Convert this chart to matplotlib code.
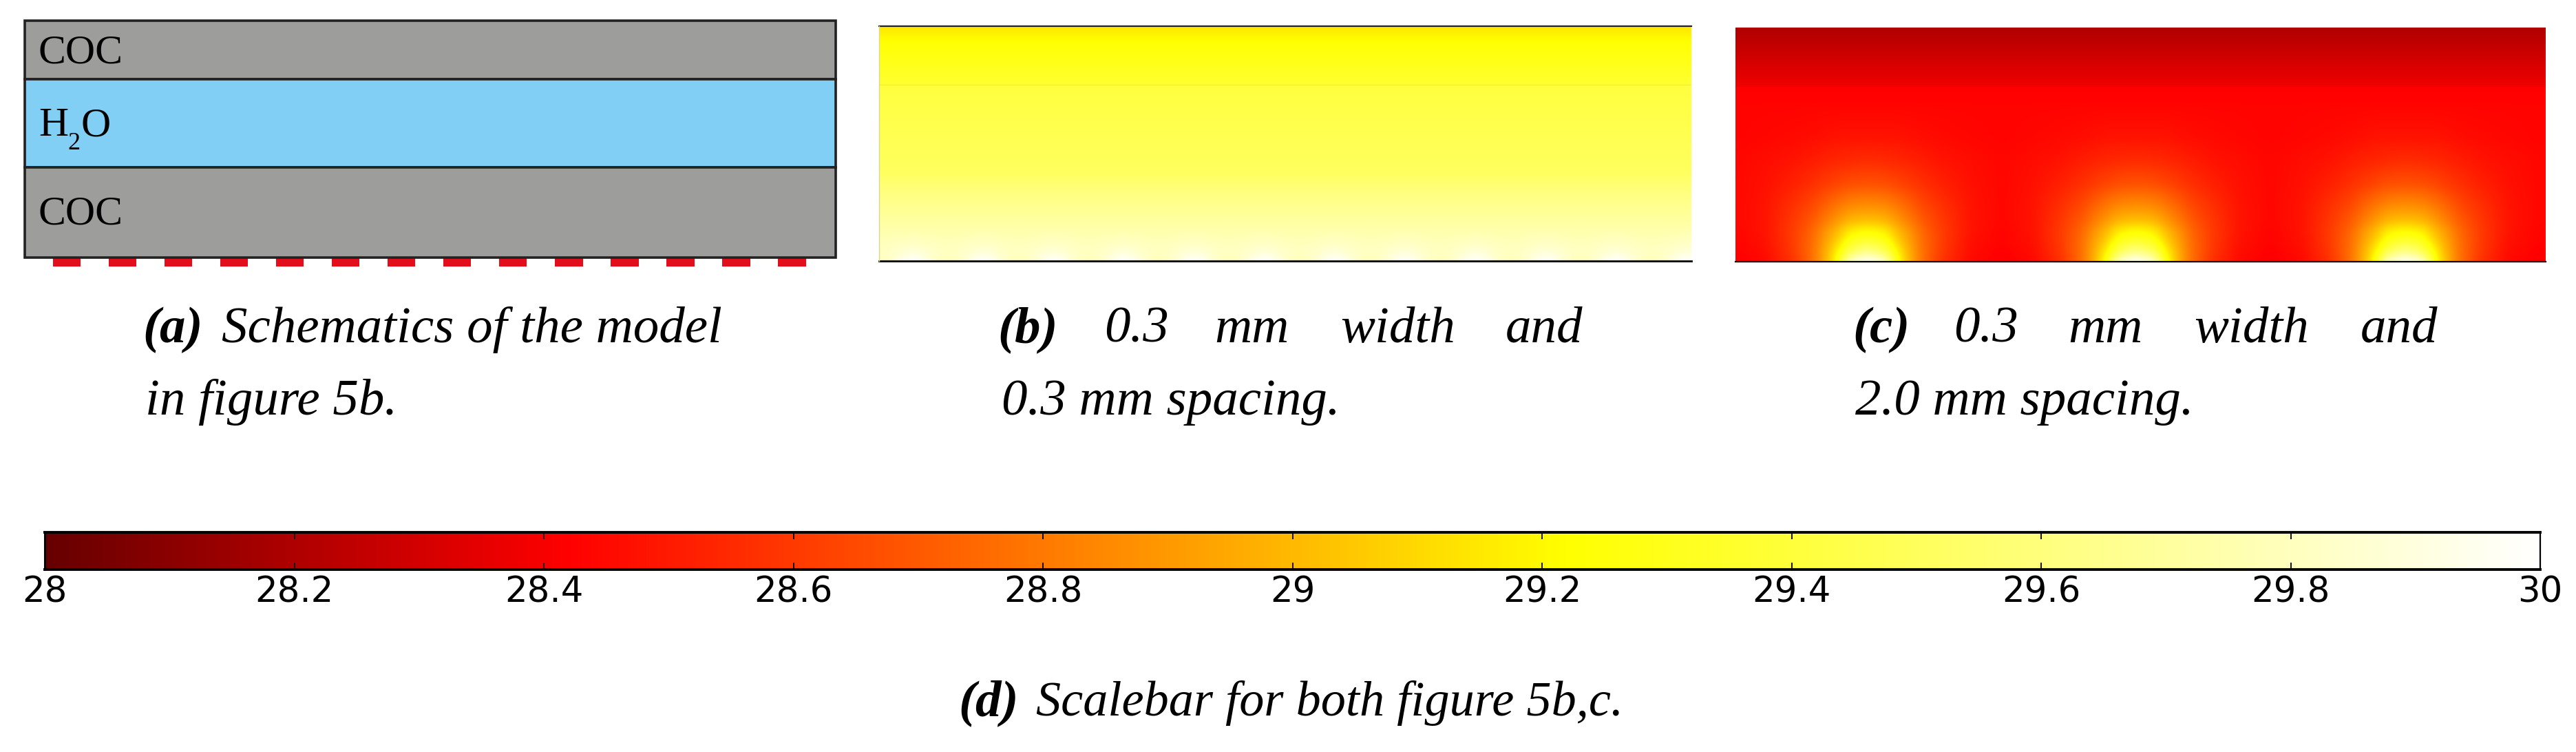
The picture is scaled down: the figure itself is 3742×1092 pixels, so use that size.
import numpy as np
import matplotlib
matplotlib.use("Agg")
import matplotlib.pyplot as plt
from matplotlib.colors import LinearSegmentedColormap, Normalize
from matplotlib.cm import ScalarMappable

W, H = 3742, 1092
SERIF = "Liberation Serif"

# ---- data -------------------------------------------------------------
T_MIN, T_MAX = 28.0, 30.0
cbar_ticks = [28, 28.2, 28.4, 28.6, 28.8, 29, 29.2, 29.4, 29.6, 29.8, 30]
cmap_temps = [28.0, 28.42, 29.22, 30.0]
cmap_colors = ["#660000", "#ff0000", "#ffff00", "#ffffff"]

# schematic (mm), listed top to bottom
layer_thick = [0.63, 0.95, 0.97]
layer_colors = ["#9d9d9c", "#81cff4", "#9d9d9c"]
schem_width = 8.72
heater_count = 14
heater_width = 0.30
heater_spacing = 0.30
heater_offset = 0.30
heater_height = 0.096

# field panels (mm): distance from heater centre, height above the heaters
panel_width = 6.93
panel_height = 2.0
water_top = 1.5

b_centres = [0.29, 0.89, 1.49, 2.09, 2.69, 3.29, 3.89, 4.49, 5.09, 5.69, 6.29, 6.89]
b_dist = [0.0, 0.08, 0.15, 0.30]
b_height = [0.0, 0.03, 0.10, 0.30, 0.58, 0.75, 1.50, 1.501, 1.86, 2.0]
b_temp = [
    [30.00, 29.97, 29.86, 29.77],
    [29.96, 29.93, 29.85, 29.79],
    [29.86, 29.85, 29.83, 29.81],
    [29.73, 29.73, 29.73, 29.73],
    [29.61, 29.61, 29.61, 29.61],
    [29.51, 29.51, 29.51, 29.51],
    [29.41, 29.41, 29.41, 29.41],
    [29.37, 29.37, 29.37, 29.37],
    [29.23, 29.23, 29.23, 29.23],
    [29.14, 29.14, 29.14, 29.14],
]

c_centres = [1.13, 3.43, 5.73]
c_dist = [0.0, 0.15, 0.26, 0.35, 0.47, 0.65, 0.88, 1.15]
c_height = [0.0, 0.09, 0.18, 0.26, 0.35, 0.47, 0.66, 0.86, 1.06, 1.35, 1.50, 1.501, 2.0]
c_temp = [
    [30.00, 29.85, 29.24, 29.00, 28.77, 28.57, 28.45, 28.41],
    [29.65, 29.48, 29.17, 28.98, 28.77, 28.59, 28.46, 28.42],
    [29.38, 29.29, 29.07, 28.94, 28.76, 28.60, 28.47, 28.43],
    [29.22, 29.17, 29.00, 28.90, 28.74, 28.60, 28.48, 28.43],
    [29.03, 29.00, 28.90, 28.82, 28.70, 28.59, 28.48, 28.44],
    [28.88, 28.86, 28.80, 28.74, 28.65, 28.57, 28.48, 28.44],
    [28.68, 28.67, 28.64, 28.61, 28.57, 28.52, 28.47, 28.44],
    [28.56, 28.55, 28.54, 28.53, 28.51, 28.48, 28.46, 28.44],
    [28.48, 28.48, 28.48, 28.47, 28.46, 28.45, 28.44, 28.43],
    [28.43, 28.43, 28.43, 28.43, 28.43, 28.43, 28.43, 28.43],
    [28.42, 28.42, 28.42, 28.42, 28.42, 28.42, 28.42, 28.42],
    [28.38, 28.38, 28.38, 28.38, 28.38, 28.38, 28.38, 28.38],
    [28.20, 28.20, 28.20, 28.20, 28.20, 28.20, 28.20, 28.20],
]

# ---- helpers ----------------------------------------------------------
fig = plt.figure(figsize=(W / 100, H / 100), dpi=100, facecolor="white")
stops = [(t - T_MIN) / (T_MAX - T_MIN) for t in cmap_temps]
cmap = LinearSegmentedColormap.from_list("heat", list(zip(stops, cmap_colors)), N=1024)
norm = Normalize(T_MIN, T_MAX)


def px_axes(x0, y0, x1, y1):
    return fig.add_axes([x0 / W, 1 - y1 / H, (x1 - x0) / W, (y1 - y0) / H])


def label(x, y, s, size=54, style="italic", weight="normal", family=SERIF, ha="left"):
    fig.text(x / W, 1 - y / H, s, fontsize=size, style=style, weight=weight,
             family=family, ha=ha, va="baseline", color="black")


def soften(a, radius, axis):
    """Rendering only: box blur (twice) with mirrored edges, hides table kinks."""
    kernel = np.ones(2 * radius + 1) / (2 * radius + 1)

    def one(v):
        p = np.pad(v, radius, mode="reflect")
        return np.convolve(p, kernel, mode="valid")

    return np.apply_along_axis(one, axis, np.apply_along_axis(one, axis, a))


def draw_field(ax, centres, dist, height, temp):
    temp = np.asarray(temp, float)
    nx, ny = 1180, 680
    xs = (np.arange(nx) + 0.5) / nx * panel_width
    hs = (np.arange(ny) + 0.5) / ny * panel_height
    d = np.min(np.abs(xs[:, None] - np.asarray(centres)[None, :]), axis=1)
    per_row = np.array([np.interp(d, dist, row) for row in temp])
    img = np.array([np.interp(hs, height, per_row[:, j]) for j in range(nx)]).T
    img = soften(img, 7, 1)
    water = hs < water_top
    img[water] = soften(img[water], 7, 0)
    img[~water] = soften(img[~water], 7, 0)
    ax.imshow(img, origin="lower", cmap=cmap, norm=norm, aspect="auto",
              extent=[0, panel_width, 0, panel_height], interpolation="bilinear")
    ax.set_xlim(0, panel_width)
    ax.set_ylim(0, panel_height)
    ax.set_xticks([])
    ax.set_yticks([])
    for sp in ax.spines.values():
        sp.set_visible(False)


# ---- (a) schematic ----------------------------------------------------
ax_a = px_axes(36, 30, 1214, 388)
total = sum(layer_thick)
px_per_mm = (374 - 30) / total
ax_a.set_xlim(0, schem_width)
ax_a.set_ylim(total + (388 - 374) / px_per_mm, 0)
ax_a.axis("off")
top = 0.0
for thick, col in zip(layer_thick, layer_colors):
    ax_a.bar(schem_width / 2, thick, width=schem_width, bottom=top, color=col,
             edgecolor="#222222", linewidth=2.6, clip_on=False, zorder=2)
    top += thick
for i in range(heater_count):
    left = heater_offset + i * (heater_width + heater_spacing)
    ax_a.bar(left + heater_width / 2, heater_height, width=heater_width, bottom=total,
             color="#e30e1b", linewidth=0, zorder=1)

label(56, 92, "COC", size=43, style="normal")
label(56, 197, "H", size=43, style="normal")
label(98, 217, "2", size=26, style="normal")
label(118, 197, "O", size=43, style="normal")
label(56, 326, "COC", size=43, style="normal")

# ---- (b), (c) fields --------------------------------------------------
ax_b = px_axes(1277, 38, 2457, 379)
draw_field(ax_b, b_centres, b_dist, b_height, b_temp)
ax_b.axhline(panel_height, color="#222222", lw=1.6, clip_on=False)
ax_b.axhline(0, color="black", lw=2.0, clip_on=False)
ax_b.axhline(water_top, color="#d8cf30", lw=0.7, alpha=0.45)
ax_b.axvline(0, color="#d8d890", lw=1.0, clip_on=False)

ax_c = px_axes(2521, 40, 3698, 380)
draw_field(ax_c, c_centres, c_dist, c_height, c_temp)
ax_c.axhline(0, color="black", lw=1.6, clip_on=False)
ax_c.axhline(water_top, color="#d80000", lw=0.7, alpha=0.6)

# ---- (d) colour bar ---------------------------------------------------
cax = px_axes(65, 773, 3690, 827)
sm = ScalarMappable(norm=norm, cmap=cmap)
cb = fig.colorbar(sm, cax=cax, orientation="horizontal", ticks=cbar_ticks)
cb.ax.set_xticklabels(["%g" % t for t in cbar_ticks])
cb.outline.set_visible(False)
for side, lw in zip(["top", "bottom", "left", "right"], [2.8, 2.8, 2.2, 1.6]):
    sp = cax.spines[side]
    sp.set_visible(True)
    sp.set_linewidth(lw)
    sp.set_color("black")
cax.tick_params(axis="x", which="major", direction="in", length=7, width=1.3,
                top=True, bottom=True, labelsize=37, pad=6, colors="black")
for t in cax.get_xticklabels():
    t.set_family("DejaVu Sans")

# ---- captions ---------------------------------------------------------
B1, B2 = 497, 602
label(207, B1, "(a)", weight="bold")
label(322, B1, "Schematics of the model")
label(211, B2, "in figure 5b.")

for x, s, w in [(1449, "(b)", "bold"), (1604, "0.3", "normal"), (1764, "mm", "normal"),
                (1947, "width", "normal"), (2187, "and", "normal")]:
    label(x, B1, s, weight=w)
label(1455, B2, "0.3 mm spacing.")

for x, s, w in [(2691, "(c)", "bold"), (2838, "0.3", "normal"), (3004, "mm", "normal"),
                (3187, "width", "normal"), (3429, "and", "normal")]:
    label(x, B1, s, weight=w)
label(2695, B2, "2.0 mm spacing.")

label(1392, 1039, "(d)", weight="bold")
label(1505, 1039, "Scalebar for both figure 5b,c.", size=52)

fig.savefig("out.png", dpi=100, facecolor="white")
